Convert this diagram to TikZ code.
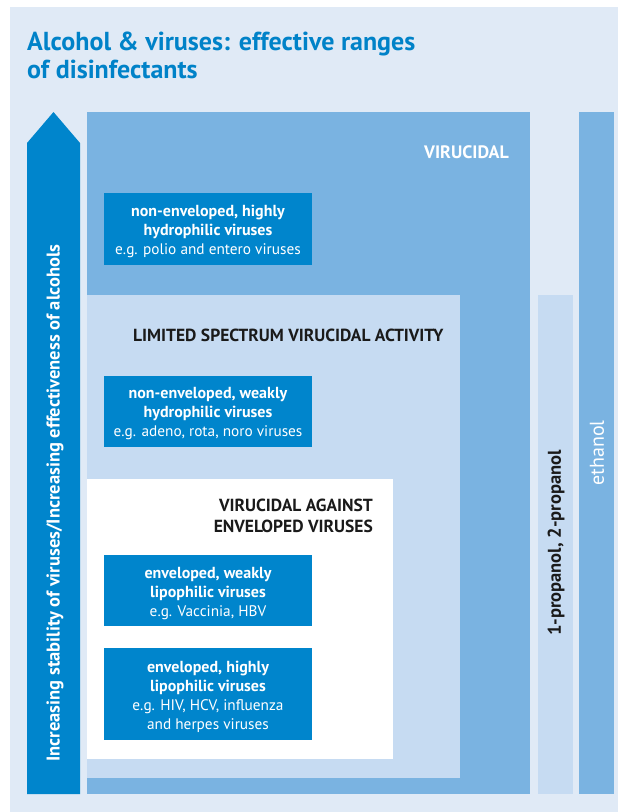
\documentclass[tikz,border=0pt]{standalone}
\usepackage{fontspec}
\setmainfont{PT Sans}
\definecolor{panel}{RGB}{224,234,246}
\definecolor{midblue}{RGB}{122,179,225}
\definecolor{lightblue}{RGB}{198,219,242}
\definecolor{darkblue}{RGB}{0,133,204}
\definecolor{titleblue}{RGB}{0,130,200}
\definecolor{darktext}{RGB}{26,26,26}
\newcommand{\hd}[1]{{\bfseries\fontsize{16}{19}\selectfont #1}}
\tikzset{
  region/.style={inner sep=0pt, outer sep=0pt, anchor=north west},
  vbox/.style={fill=darkblue, inner sep=0pt, minimum width=208pt},
  boxtext/.style={text=white, align=center, inner sep=0pt,
    font=\fontsize{15.3}{19}\selectfont},
  heading/.style={inner sep=0pt, font=\bfseries\fontsize{17.5}{21}\selectfont},
  sidetext/.style={inner sep=0pt, rotate=90}
}
\begin{document}
\begin{tikzpicture}[x=1pt,y=-1pt]
\useasboundingbox (0,0) rectangle (618,812);
\fill[panel] (10,7) rectangle (618,812);
% title
\node[inner sep=0pt, anchor=base west, text=titleblue, align=left,
  font=\bfseries\fontsize{26}{28}\selectfont] (title) at (27,78)
  {Alcohol \& viruses: effective ranges\\of disinfectants};
% nested regions
\node[region, fill=midblue, minimum width=443pt, minimum height=682pt] (vir) at (87,112) {};
\node[region, fill=lightblue, minimum width=373pt, minimum height=483pt] (lim) at (87,295) {};
\node[region, fill=white, minimum width=306pt, minimum height=280pt] (env) at (87,479) {};
\node[region, fill=lightblue, minimum width=35pt, minimum height=499pt] (prop) at (538,295) {};
\node[region, fill=midblue, minimum width=35pt, minimum height=682pt] (eth) at (579,112) {};
% arrow
\fill[darkblue] (27,794) -- (27,143) -- (53.5,112) -- (80,143) -- (80,794) -- cycle;
\node[sidetext, text=white, font=\bfseries\fontsize{18.5}{20}\selectfont] (arrowtext) at (55,503)
  {Increasing stability of viruses/Increasing effectiveness of alcohols};
% headings
\node[heading, text=white, font=\bfseries\fontsize{18}{21}\selectfont, anchor=base east] (hvir) at (509,158) {VIRUCIDAL};
\node[heading, text=darktext, anchor=base west] (hlim) at (133,341) {LIMITED SPECTRUM VIRUCIDAL ACTIVITY};
\node[heading, text=darktext, anchor=base east, align=right] (henv) at (373,532)
  {VIRUCIDAL AGAINST\\ENVELOPED VIRUSES};
% virus boxes
\node[vbox, minimum height=72pt] (b1) at (208,229) {};
\node[vbox, minimum height=71pt] (b2) at (208,411.5) {};
\node[vbox, minimum height=71pt] (b3) at (208,590.5) {};
\node[vbox, minimum height=92pt] (b4) at (208,694) {};
\node[boxtext] (t1) at ([yshift=-2.5pt]b1.center)
  {\hd{non-enveloped, highly}\\\hd{hydrophilic viruses}\\e.g. polio and entero viruses};
\node[boxtext] (t2) at ([yshift=-2.5pt]b2.center)
  {\hd{non-enveloped, weakly}\\\hd{hydrophilic viruses}\\e.g. adeno, rota, noro viruses};
\node[boxtext] (t3) at ([yshift=-3pt]b3.center)
  {\hd{enveloped, weakly}\\\hd{lipophilic viruses}\\e.g. Vaccinia, HBV};
\node[boxtext] (t4) at ([yshift=-2.5pt]b4.center)
  {\hd{enveloped, highly}\\\hd{lipophilic viruses}\\e.g. HIV, HCV, influenza\\and herpes viruses};
% alcohol labels
\node[sidetext, text=darktext, font=\bfseries\fontsize{18.5}{20}\selectfont] (proptext) at (556,543) {1-propanol, 2-propanol};
\node[sidetext, text=white, font=\fontsize{20}{22}\selectfont] (ethtext) at (597,453) {ethanol};
\end{tikzpicture}
\end{document}
